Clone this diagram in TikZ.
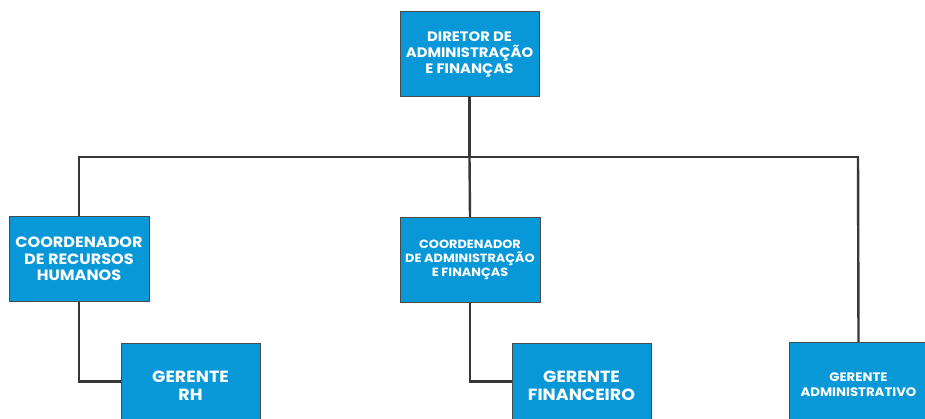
\documentclass[tikz,border=0pt]{standalone}
\usepackage{fontspec}
\setmainfont{Poppins}[FakeStretch=1.08]
\definecolor{boxblue}{RGB}{8,152,216}
\definecolor{boxedge}{RGB}{70,75,80}
\definecolor{linegray}{RGB}{55,55,55}
\begin{document}
\begin{tikzpicture}[x=1pt,y=-1pt,
  orgbox/.style={draw=boxedge,line width=1pt,fill=boxblue,text=white,
    minimum width=139pt,minimum height=85pt,inner sep=0pt,align=center,
    font=\bfseries\fontsize{13.7}{16}\selectfont},
  coordbox/.style={orgbox,minimum width=140pt,minimum height=84pt},
  gerbox/.style={orgbox,font=\bfseries\fontsize{16.2}{18}\selectfont},
  conn/.style={draw=linegray,line width=2.4pt}]
\useasboundingbox (0,0) rectangle (925,419);
\clip (0,0) rectangle (925,419);
\fill[white] (0,0) rectangle (925,419);
\coordinate (hL) at (79,157);
\coordinate (hM) at (469.5,157);
\coordinate (hR) at (858,157);
\node[orgbox] (top) at (469.5,54.5) {DIRETOR DE\\ADMINISTRAÇÃO\\E FINANÇAS};
\node[coordbox,font=\bfseries\fontsize{14.9}{16.5}\selectfont] (cL) at (79,259) {COORDENADOR\\DE RECURSOS\\HUMANOS};
\node[coordbox,font=\bfseries\fontsize{11.9}{14}\selectfont] (cM) at (470,260) {COORDENADOR\\DE ADMINISTRAÇÃO\\E FINANÇAS};
\node[gerbox] (gRH) at (190.5,385.5) {GERENTE\\RH};
\node[gerbox] (gFin) at (581.5,385.5) {GERENTE\\FINANCEIRO};
\node[orgbox,font=\bfseries\fontsize{12.3}{15}\selectfont] (gAdm) at (858.5,385) {GERENTE\\ADMINISTRATIVO};
\path[conn] (top.south) -- (hM);
\path[conn,line cap=rect] (hL) -- (hR);
\path[conn] (hL) -- (cL.north);
\path[conn] (hM) -- (cM.north);
\path[conn] (hR) -- (gAdm.north);
\path[conn] (cL.south) |- ([yshift=4pt]gRH.west);
\path[conn] (cM.south) |- ([yshift=4pt]gFin.west);
% redraw boxes on top of connector ends
\node[orgbox] at (top) {DIRETOR DE\\ADMINISTRAÇÃO\\E FINANÇAS};
\node[coordbox,font=\bfseries\fontsize{14.9}{16.5}\selectfont] at (cL) {COORDENADOR\\DE RECURSOS\\HUMANOS};
\node[coordbox,font=\bfseries\fontsize{11.9}{14}\selectfont] at (cM) {COORDENADOR\\DE ADMINISTRAÇÃO\\E FINANÇAS};
\node[gerbox] at (gRH) {GERENTE\\RH};
\node[gerbox] at (gFin) {GERENTE\\FINANCEIRO};
\node[orgbox,font=\bfseries\fontsize{12.3}{15}\selectfont] at (gAdm) {GERENTE\\ADMINISTRATIVO};
\end{tikzpicture}
\end{document}
